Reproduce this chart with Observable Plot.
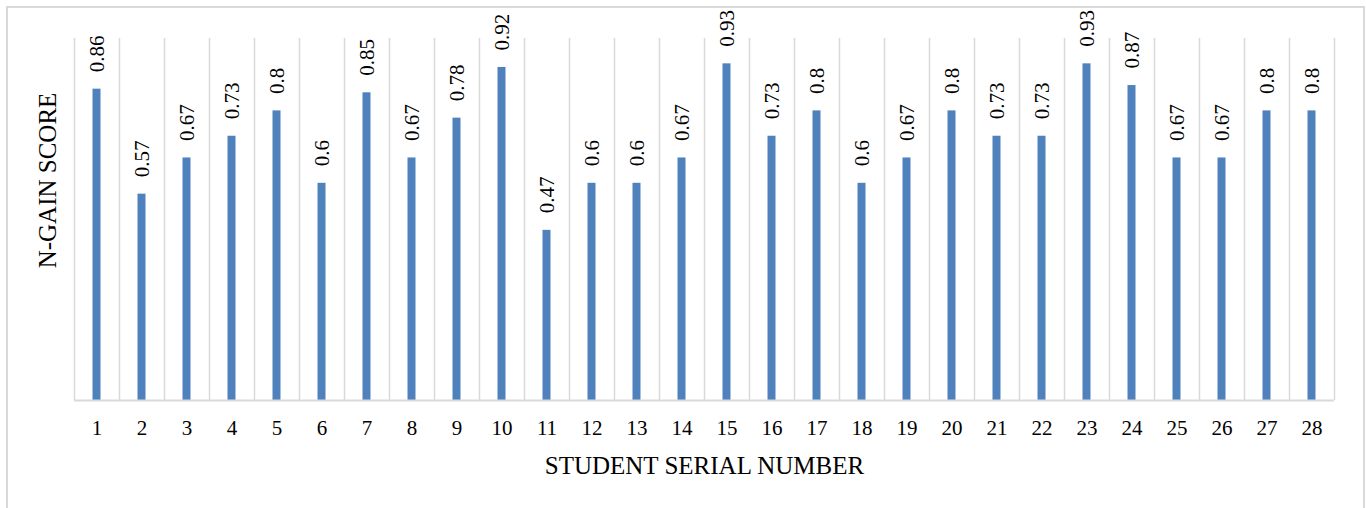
<!DOCTYPE html>
<html>
<head>
<meta charset="utf-8">
<script src="https://cdn.jsdelivr.net/npm/d3@7"></script>
<script src="https://cdn.jsdelivr.net/npm/@observablehq/plot@0.6"></script>
<style>
  html, body { margin: 0; padding: 0; background: #fff; }
  #wrap { position: relative; width: 1366px; height: 508px; overflow: hidden; }
  #border { position: absolute; left: 6px; top: 6px; width: 1355px; height: 540px; border: 2px solid #d9d9d9; box-sizing: content-box; }
  #chart { position: absolute; left: 0; top: 0; }
</style>
</head>
<body>
<div id="wrap"><div id="border"></div><div id="chart"></div></div>
<script>
const students = [1,2,3,4,5,6,7,8,9,10,11,12,13,14,15,16,17,18,19,20,21,22,23,24,25,26,27,28];
const scores = [0.86,0.57,0.67,0.73,0.8,0.6,0.85,0.67,0.78,0.92,0.47,0.6,0.6,0.67,0.93,0.73,0.8,0.6,0.67,0.8,0.73,0.73,0.93,0.87,0.67,0.67,0.8,0.8];
const xTitle = "STUDENT SERIAL NUMBER";
const yTitle = "N-GAIN SCORE";

const data = students.map((s, i) => ({student: s, score: scores[i]}));
const boundaries = students.map(s => s - 0.5).concat([students[students.length - 1] + 0.5]);

const serif = "'Liberation Serif', 'Times New Roman', serif";
const grid = "#d9d9d9";
const blue = "#4f81bd";

const chart = Plot.plot({
  width: 1366,
  height: 508,
  marginLeft: 74,
  marginRight: 32,
  marginTop: 38,
  marginBottom: 108,
  style: {fontFamily: serif, background: "transparent", overflow: "visible"},
  x: {type: "linear", domain: [0.5, students.length + 0.5], axis: null},
  y: {domain: [0, 1], axis: null},
  marks: [
    Plot.ruleX(boundaries, {x: d => d, y1: 0, y2: 1, stroke: grid, strokeWidth: 1.5}),
    Plot.rectY(data, {
      x1: d => d.student - 0.5, x2: d => d.student + 0.5, y1: 0, y2: "score",
      insetLeft: 18.5, insetRight: 18.5, fill: blue
    }),
    Plot.ruleY([0], {stroke: grid, strokeWidth: 2}),
    Plot.text(data, {
      x: "student", y: "score", text: d => String(d.score),
      rotate: -90, textAnchor: "start", lineAnchor: "middle",
      dy: -17, fontSize: 21, fontFamily: serif, fill: "#000"
    }),
    Plot.axisX({
      ticks: students, tickSize: 0, tickPadding: 20, fontSize: 21, fontFamily: serif,
      tickFormat: d => String(d), label: null, fill: "#000"
    }),
    Plot.text([xTitle], {
      frameAnchor: "bottom", dy: 65, fontSize: 25, fontFamily: serif, lineAnchor: "middle", fill: "#000"
    }),
    Plot.text([yTitle], {
      frameAnchor: "left", rotate: -90, dx: -27, dy: -39, fontSize: 25, fontFamily: serif,
      lineAnchor: "middle", textAnchor: "middle", fill: "#000"
    })
  ]
});
document.getElementById("chart").appendChild(chart);
</script>
</body>
</html>
